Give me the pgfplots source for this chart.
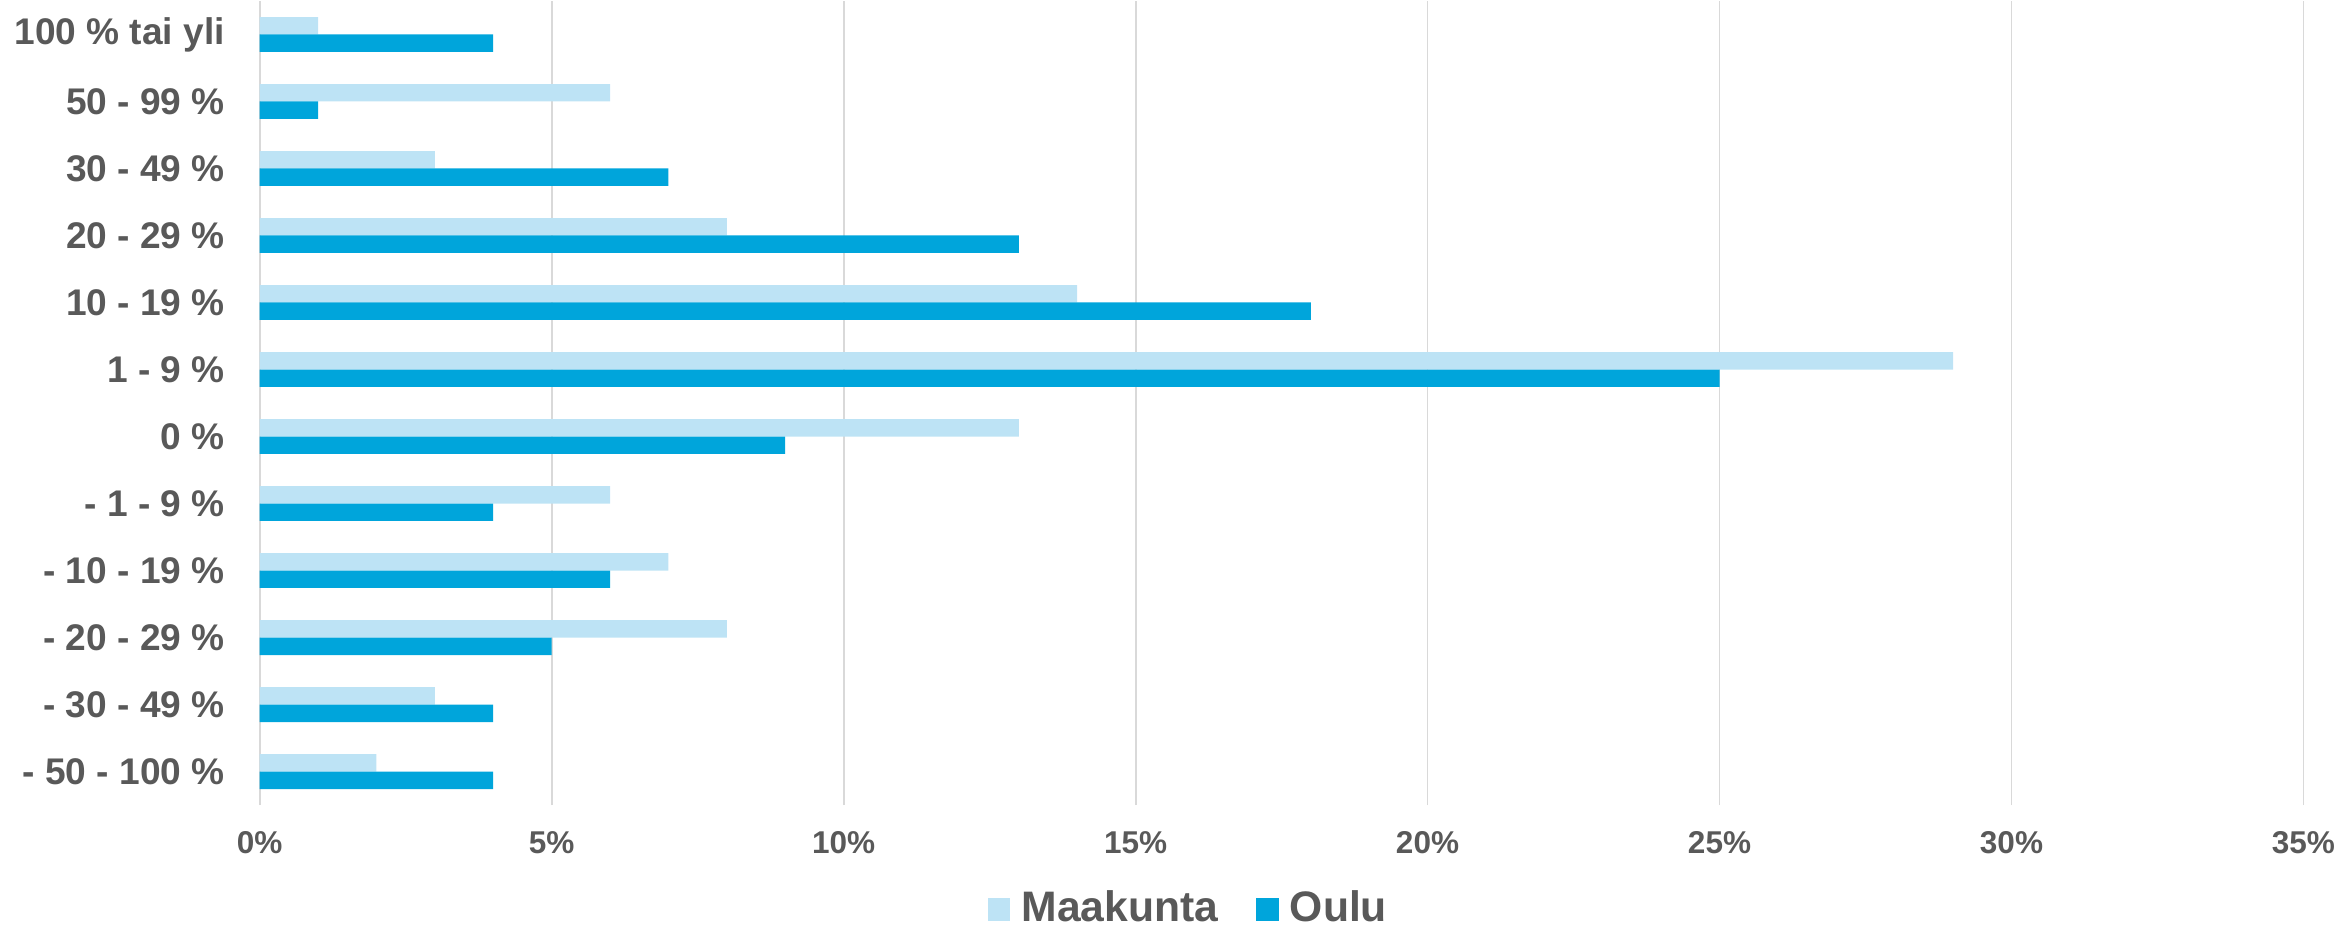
\documentclass[border=0pt]{standalone}
\usepackage{fontspec}
\setmainfont{Liberation Sans}
\usepackage{pgfplots}
\usepackage{pgfplotstable}
\pgfplotsset{compat=1.18}
\definecolor{maak}{HTML}{BDE3F5}
\definecolor{oulu}{HTML}{00A5DB}
\definecolor{txt}{HTML}{595959}
\definecolor{gridc}{HTML}{D9D9D9}

\pgfplotsset{sqleg/.style={legend image code/.code={%
    \fill[##1] (0pt,-3.2pt) rectangle (6pt,2.8pt); \path (9pt,0pt);}}}

% y = row index, 0 = bottom row
\pgfplotstableread{
y maak oulu
0  2  4
1  3  4
2  8  5
3  7  6
4  6  4
5  13 9
6  29 25
7  14 18
8  8  13
9  3  7
10 6  1
11 1  4
}\data

\begin{document}
\begin{tikzpicture}
\begin{axis}[
    name=ax,
    scale only axis, width=551pt, height=216.8pt,
    xmin=0, xmax=35, ymin=-0.5, ymax=11.5,
    axis line style={draw=none},
    major tick length=0pt,
    xtick={0,5,...,35},
    xticklabels={0\%,5\%,10\%,15\%,20\%,25\%,30\%,35\%},
    ytick={0,...,11},
    yticklabels={- 50 - 100 \%, - 30 - 49 \%, - 20 - 29 \%, - 10 - 19 \%, - 1 - 9 \%, 0 \%,
        1 - 9 \%, 10 - 19 \%, 20 - 29 \%, 30 - 49 \%, 50 - 99 \%, 100 \% tai yli},
    xmajorgrids, major grid style={gridc, line width=0.5pt},
    x tick label style={font=\fontsize{8.5}{10}\selectfont\bfseries, text=txt,
        inner sep=0pt, anchor=north, yshift=-7pt},
    y tick label style={font=\fontsize{10}{12}\selectfont\bfseries, text=txt,
        inner sep=0pt, anchor=east, xshift=-9.2pt},
    xbar, bar width=4.7pt,
    legend columns=2,
    legend style={at={(axis description cs:0.454,0)}, anchor=north, yshift=-23pt,
        draw=none, fill=none, inner sep=0pt, outer sep=0pt,
        font=\fontsize{11.5}{13}\selectfont\bfseries, text=txt,
        nodes={inner sep=0pt},
        /tikz/every even column/.append style={column sep=10.3pt}},
]
\addplot[fill=maak, draw=none, bar shift=2.35pt, sqleg]
    table[x=maak, y=y]{\data};
\addlegendentry{Maakunta}
\addplot[fill=oulu, draw=none, bar shift=-2.35pt, sqleg]
    table[x=oulu, y=y]{\data};
\addlegendentry{Oulu}
\end{axis}
% small empty margin left of the labels, as in the reference
\path ([xshift=-70pt]ax.north west);
\end{tikzpicture}
\end{document}
